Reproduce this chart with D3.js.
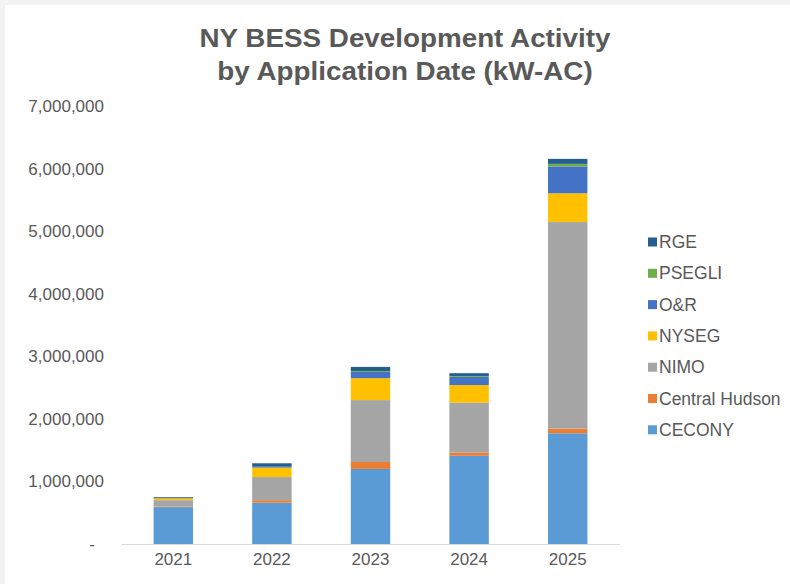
<!DOCTYPE html>
<html><head><meta charset="utf-8">
<script src="https://cdn.jsdelivr.net/npm/d3@7"></script>
<style>body{margin:0;background:#f3f3f3;}svg{display:block;font-family:"Liberation Sans",Arial,sans-serif;}</style>
</head><body>
<svg id="c" width="790" height="584"></svg>
<script>
const years = ["2021","2022","2023","2024","2025"];
const seriesNames = ["CECONY","Central Hudson","NIMO","NYSEG","O&R","PSEGLI","RGE"];
const colors = ["#5B9BD5","#ED7D31","#A5A5A5","#FFC000","#4472C4","#70AD47","#255E91"];
const CECONY        = [590000, 660000, 1200000, 1410000, 1770000];
const CentralHudson = [10000, 40000, 110000, 50000, 75000];
const NIMO          = [100000, 370000, 990000, 800000, 3300000];
const NYSEG         = [30000, 150000, 350000, 280000, 460000];
const OR            = [5000, 10000, 100000, 130000, 430000];
const PSEGLI        = [3000, 5000, 15000, 15000, 40000];
const RGE           = [12000, 55000, 65000, 45000, 80000];
const yTicks = [0,1000000,2000000,3000000,4000000,5000000,6000000,7000000];
const title = ["NY BESS Development Activity","by Application Date (kW-AC)"];

const seriesVals = [CECONY, CentralHudson, NIMO, NYSEG, OR, PSEGLI, RGE];
const rows = years.map((y,i)=>{const r={year:y}; seriesNames.forEach((s,j)=>r[s]=seriesVals[j][i]); return r;});
const stack = d3.stack().keys(seriesNames)(rows);

const svg = d3.select("#c");
svg.append("rect").attr("x",5).attr("y",5).attr("width",785).attr("height",579).attr("fill","#ffffff");

const x = d3.scaleBand().domain(years).range([124,617]).paddingInner(0.6).paddingOuter(0.3);
const y = d3.scaleLinear().domain([0,7000000]).range([544,106]);

svg.append("g").attr("transform","translate(405,0) scale(1.07,1)")
  .selectAll("text").data(title).join("text")
  .attr("x",0).attr("y",(d,i)=>47+i*33).attr("text-anchor","middle")
  .attr("font-size",26).attr("font-weight","bold").attr("fill","#595959").text(d=>d);

// y axis labels
const yAxis = d3.axisLeft(y).tickValues(yTicks).tickSize(0).tickPadding(0)
  .tickFormat(d=> d===0 ? "-" : d3.format(",")(d));
const ga = svg.append("g").attr("transform","translate(104,0)").call(yAxis);
ga.select(".domain").remove();
ga.selectAll("text").attr("font-size",17).attr("fill","#595959")
  .attr("font-family","Liberation Sans, Arial, sans-serif")
  .attr("dx",d=>d===0?-9:0);

// bars
svg.append("g").selectAll("g").data(stack).join("g")
  .attr("fill",(d,i)=>colors[i])
  .selectAll("rect").data(d=>d).join("rect")
  .attr("x",d=>x(d.data.year)).attr("width",x.bandwidth())
  .attr("y",d=>y(d[1])).attr("height",d=>y(d[0])-y(d[1]));

// x axis
const xAxis = d3.axisBottom(x).tickSize(0).tickPadding(9);
const gx = svg.append("g").attr("transform","translate(0,544)").call(xAxis);
gx.select(".domain").remove();
gx.selectAll("text").attr("font-size",17).attr("fill","#595959").attr("font-family","Liberation Sans, Arial, sans-serif");
svg.append("line").attr("x1",122).attr("x2",620).attr("y1",544.5).attr("y2",544.5)
  .attr("stroke","#d9d9d9").attr("stroke-width",1);

// legend (reverse order)
const legItems = seriesNames.map((s,i)=>({name:s,color:colors[i]})).reverse();
const lg = svg.append("g").selectAll("g").data(legItems).join("g")
  .attr("transform",(d,i)=>`translate(648,${242+i*31.3})`);
lg.append("rect").attr("x",0).attr("y",-4.5).attr("width",9).attr("height",9).attr("fill",d=>d.color);
lg.append("text").attr("x",11).attr("y",6).attr("font-size",17.5).attr("fill","#595959").text(d=>d.name);
</script>
</body></html>
